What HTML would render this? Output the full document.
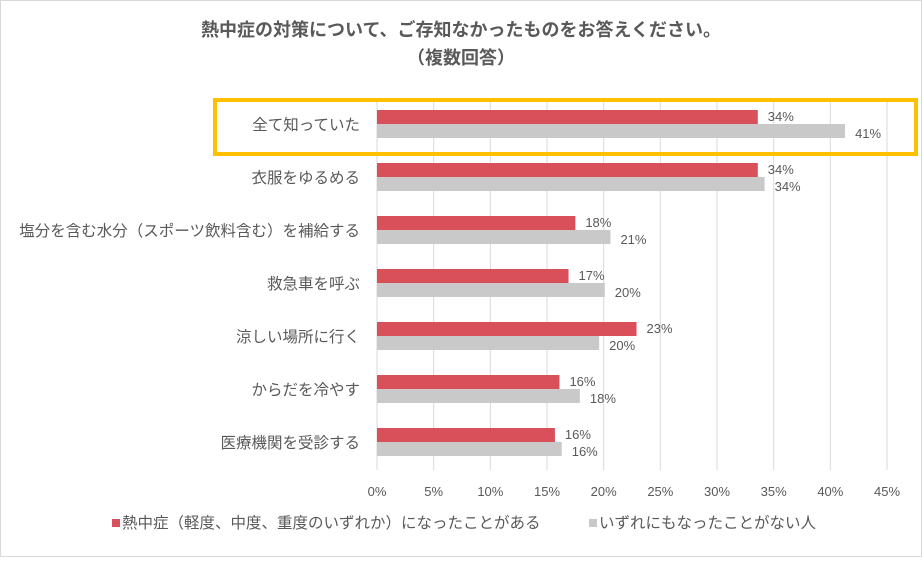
<!DOCTYPE html>
<html><head><meta charset="utf-8"><style>
body{margin:0;background:#fff;}
svg text{font-family:"Liberation Sans","Noto Sans CJK JP",sans-serif;}
</style></head><body>
<svg width="923" height="560" viewBox="0 0 923 560" xmlns="http://www.w3.org/2000/svg">
<rect x="0.5" y="0.5" width="921" height="556" fill="#fff" stroke="#d9d9d9"/>
<text x="461" y="36" text-anchor="middle" font-size="18" font-weight="bold" fill="#595959">熱中症の対策について、ご存知なかったものをお答えください。</text>
<text x="461" y="64" text-anchor="middle" font-size="18" font-weight="bold" fill="#595959">（複数回答）</text>
<g id="grid"></g>
<g id="bars"></g>
<rect x="215" y="100" width="701" height="54" fill="none" stroke="#ffc000" stroke-width="4"/>
<g>
<rect x="112" y="519" width="8" height="8" fill="#d9505a"/>
<text x="122" y="528" font-size="15.5" fill="#595959">熱中症（軽度、中度、重度のいずれか）になったことがある</text>
<rect x="589" y="519" width="8" height="8" fill="#c9c9c9"/>
<text x="599" y="528" font-size="15.5" fill="#595959">いずれにもなったことがない人</text>
</g>
</svg>
<script>
const categories=["全て知っていた","衣服をゆるめる","塩分を含む水分（スポーツ飲料含む）を補給する","救急車を呼ぶ","涼しい場所に行く","からだを冷やす","医療機関を受診する"];
const seriesRed=[33.6,33.6,17.5,16.9,22.9,16.1,15.7];
const seriesGray=[41.3,34.2,20.6,20.1,19.6,17.9,16.3];
const labelsRed=["34%","34%","18%","17%","23%","16%","16%"];
const labelsGray=["41%","34%","21%","20%","20%","18%","16%"];
const ticks=[0,5,10,15,20,25,30,35,40,45];
const NS="http://www.w3.org/2000/svg";
const x0=377,x1=887,yTop=98,yBot=470,rowH=53,firstY=125;
const xs=v=>x0+(v/45)*(x1-x0);
const ys=i=>firstY+i*rowH;
function mk(tag,attrs,parent,txt){const e=document.createElementNS(NS,tag);for(const k in attrs)e.setAttribute(k,attrs[k]);if(txt!==undefined)e.textContent=txt;parent.appendChild(e);return e;}
const grid=document.getElementById('grid'),bars=document.getElementById('bars');
ticks.forEach(t=>{
 const l=mk('line',{x1:xs(t),x2:xs(t),y1:yTop,y2:yBot,stroke:'#d9d9d9','stroke-width':1},grid);
 
 
 const tx=mk('text',{x:xs(t),y:496,'text-anchor':'middle','font-size':13,fill:'#595959'},grid,t+'%');
 
 
});
categories.forEach((c,i)=>{
 const y=ys(i);
 const lab=mk('text',{x:360,y:y+5,'text-anchor':'end','font-size':15.5,fill:'#595959'},bars,c);
 
 
 const r=mk('rect',{x:x0,y:y-15,width:xs(seriesRed[i])-x0,height:14,fill:'#d9505a'},bars);
 
 
 const g=mk('rect',{x:x0,y:y-1,width:xs(seriesGray[i])-x0,height:14,fill:'#c9c9c9'},bars);
 
 
 const tr=mk('text',{x:xs(seriesRed[i])+10,y:y-4,'font-size':13,fill:'#595959'},bars,labelsRed[i]);
 
 
 const tg=mk('text',{x:xs(seriesGray[i])+10,y:y+13,'font-size':13,fill:'#595959'},bars,labelsGray[i]);
 
 
});
</script>
</body></html>
